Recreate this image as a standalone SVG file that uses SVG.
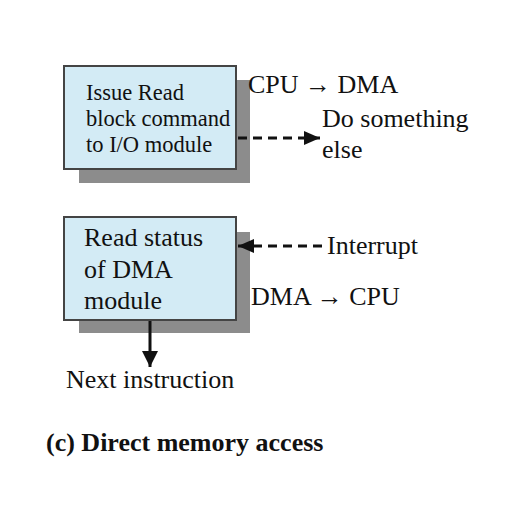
<svg xmlns="http://www.w3.org/2000/svg" width="514" height="532" viewBox="0 0 514 532">
<style>
.shadow{fill:#8c8c8c;}
.box{fill:#d3ebf5;stroke:#444;stroke-width:2;}
text{font-family:"Liberation Serif","Times New Roman",serif;fill:#111;}
.t1{font-size:22.5px;}
.t2{font-size:26px;}
.cap{font-size:26px;font-weight:bold;}
.dash{stroke:#111;stroke-width:3;stroke-dasharray:9,6;fill:none;}
.solid{stroke:#111;stroke-width:3;fill:none;}
</style>
<defs>
<marker id="ah" viewBox="0 0 16 14" refX="16" refY="7" markerWidth="16" markerHeight="14" markerUnits="userSpaceOnUse" orient="auto">
<path d="M0,0 L16,7 L0,14 Z" fill="#111"/>
</marker>
<marker id="ahd" viewBox="0 0 20 16" refX="16" refY="8" markerWidth="20" markerHeight="16" markerUnits="userSpaceOnUse" orient="auto">
<path d="M0,0 L16,8 L0,16 Z" fill="#111"/>
</marker>
</defs>
<rect width="514" height="532" fill="#fff"/>
<g id="node-issue">
<rect class="shadow" x="79" y="80" width="171" height="103"/>
<rect class="box" x="64" y="66" width="172" height="103"/>
<text class="t1" x="86" y="100">Issue Read</text>
<text class="t1" x="86" y="126">block command</text>
<text class="t1" x="86" y="152">to I/O module</text>
</g>
<g id="node-read">
<rect class="shadow" x="79" y="232" width="171" height="101"/>
<rect class="box" x="64" y="217" width="172" height="103"/>
<text class="t2" x="84" y="246">Read status</text>
<text class="t2" x="84" y="278">of DMA</text>
<text class="t2" x="84" y="309">module</text>
</g>
<g id="labels">
<text class="t2" x="248" y="93">CPU → DMA</text>
<text class="t2" x="322" y="127">Do something</text>
<text class="t2" x="322" y="158">else</text>
<text class="t2" x="327" y="254">Interrupt</text>
<text class="t2" x="251" y="305">DMA → CPU</text>
<text class="t2" x="66" y="388">Next instruction</text>
<text class="cap" x="46" y="451">(c) Direct memory access</text>
</g>
<g id="connectors">
<line class="dash" x1="238" y1="138" x2="320" y2="138" marker-end="url(#ah)"/>
<line class="dash" x1="322" y1="246" x2="238" y2="246" marker-end="url(#ah)"/>
<line class="solid" x1="150" y1="321" x2="150" y2="367" marker-end="url(#ahd)"/>
</g>
</svg>
